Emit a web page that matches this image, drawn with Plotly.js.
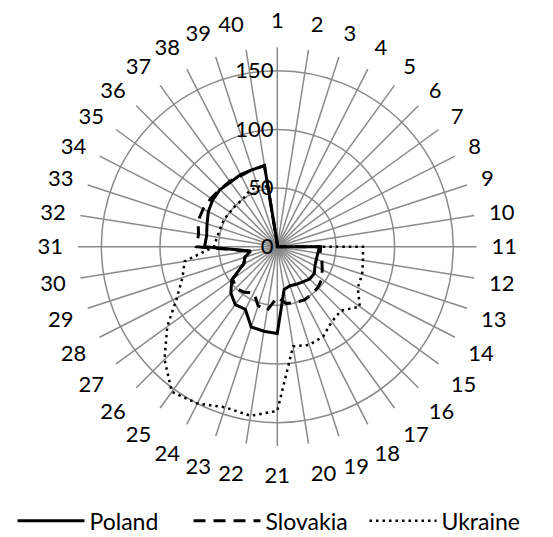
<!DOCTYPE html>
<html>
<head>
<meta charset="utf-8">
<script src="https://cdn.plot.ly/plotly-3.0.1.min.js"></script>
<style>html,body{margin:0;padding:0;background:#fff;}#chart{width:553px;height:537px;}</style>
</head>
<body>
<div id="chart"></div>
<script>
const categories = Array.from({length: 40}, (_, i) => String(i + 1));
const poland   = [3,0,0,0,0,0,0,0,0,0, 36,35,35,36,39,39,37,36,35,37, 74,73,72,60,61,56,48,32,29,23, 62,61,63,66,68,69,68,69,69,70];
const slovakia = [2,0,0,0,0,0,0,0,0,0, 37,37,40,43,47,49,50,51,50,49, 43,55,53,44,48,50,47,32,29,24, 69,68,71,71,70,69,69,68,69,70];
const ukraine  = [0,0,0,0,0,0,0,0,0,0, 73,74,76,77,87,77,79,86,88,86, 140,146,144,150,153,136,116,96,85,80, 54,52,51,51,50,50,50,53,54,52];
const radialTicks = [0, 50, 100, 150];

function closed(arr) { return arr.concat([arr[0]]); }

const font = 'Lato, "Open Sans", sans-serif';
const traces = [
  {name: 'Poland', r: poland, line: {color: '#000', width: 3, dash: 'solid'}},
  {name: 'Slovakia', r: slovakia, line: {color: '#000', width: 3, dash: '12px,8px'}},
  {name: 'Ukraine', r: ukraine, line: {color: '#000', width: 2.5, dash: '2.5px,4px'}}
].map(s => ({
  type: 'scatterpolar', mode: 'lines', name: s.name,
  r: closed(s.r), theta: closed(categories), line: s.line, hoverinfo: 'skip'
}));

const layout = {
  width: 553, height: 537,
  margin: {l: 0, r: 0, t: 0, b: 0, autoexpand: false},
  paper_bgcolor: '#fff',
  font: {family: font, size: 22, color: '#000'},
  showlegend: true,
  legend: {orientation: 'h', xref: 'container', yref: 'container',
           x: 0.5, xanchor: 'center', y: 0.03, yanchor: 'middle',
           itemwidth: 67, entrywidth: 94, entrywidthmode: 'pixels',
           font: {family: font, size: 23, color: '#000'}},
  polar: {
    domain: {x: [0.1409, 0.8620], y: [0.1693, 0.9119]},
    bgcolor: '#fff',
    radialaxis: {range: [0, 170], tickvals: radialTicks, ticktext: radialTicks.map(String),
                 showline: false, ticks: '', angle: 90, side: 'counterclockwise', tickangle: 90,
                 gridcolor: '#8a8a8a', gridwidth: 1.5,
                 tickfont: {family: font, size: 22, color: '#000'}},
    angularaxis: {type: 'category', categoryarray: categories, direction: 'clockwise', rotation: 90,
                  showline: false, ticks: 'outside', ticklen: 10, tickcolor: 'rgba(0,0,0,0)',
                  gridcolor: '#8a8a8a', gridwidth: 1.5,
                  tickfont: {family: font, size: 22, color: '#000'}}
  }
};

Plotly.newPlot('chart', traces, layout, {displayModeBar: false, staticPlot: true});
</script>
</body>
</html>
